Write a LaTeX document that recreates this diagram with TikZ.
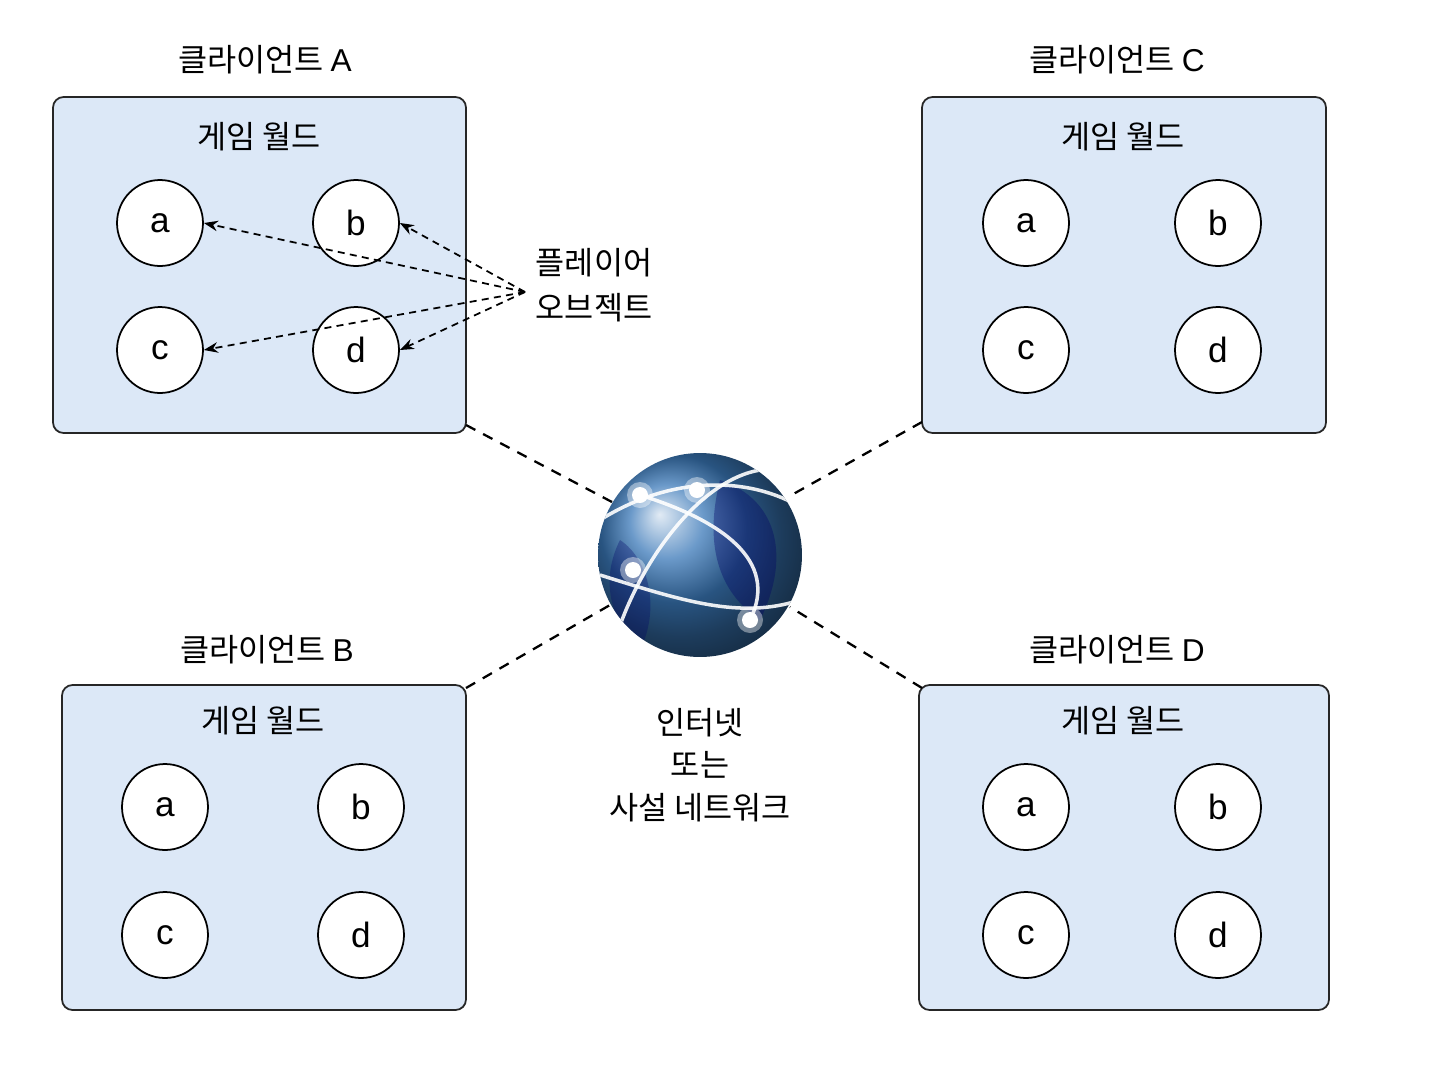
\documentclass[tikz,border=0pt]{standalone}
\usepackage{fontspec}
\setmainfont{Noto Sans CJK KR}
\newfontfamily\lat{Liberation Sans}
\usetikzlibrary{arrows.meta}
\definecolor{boxfill}{HTML}{DCE8F7}
\definecolor{globeb}{HTML}{3A78B8}
\begin{document}
\begin{tikzpicture}[x=0.02cm,y=-0.02cm,
  box/.style={draw=black!85,line width=1pt,fill=boxfill,rounded corners=6pt},
  obj/.style={draw=black,line width=1pt,fill=white,circle,minimum size=1.72cm,inner sep=0pt,font=\lat\fontsize{20}{22}\selectfont},
  lbl/.style={font=\fontsize{18}{26}\selectfont,align=center},
  link/.style={dashed,line width=1.3pt,dash pattern=on 6pt off 5pt},
  ptr/.style={dashed,line width=1pt,-{Stealth[length=8pt]},dash pattern=on 4pt off 3pt}]
\fill[white] (0,0) rectangle (1448,1086);
\useasboundingbox (0,0) rectangle (1448,1086);
\draw[box] (53,97) rectangle (466,433);
\draw[box] (922,97) rectangle (1326,433);
\draw[box] (62,685) rectangle (466,1010);
\draw[box] (919,685) rectangle (1329,1010);
\node[lbl] (tA) at (265,60) {클라이언트 {\lat A}};
\node[lbl] (tC) at (1117,60) {클라이언트 {\lat C}};
\node[lbl] (tB) at (267,650) {클라이언트 {\lat B}};
\node[lbl] (tD) at (1117,650) {클라이언트 {\lat D}};
\node[lbl] (wA) at (259,137) {게임 월드};
\node[lbl] (wC) at (1123,137) {게임 월드};
\node[lbl] (wB) at (263,721) {게임 월드};
\node[lbl] (wD) at (1123,721) {게임 월드};
\node[obj] (Aa) at (160,223) {a}; \node[obj] (Ab) at (356,223) {b};
\node[obj] (Ac) at (160,350) {c}; \node[obj] (Ad) at (356,350) {d};
\node[obj] (Ca) at (1026,223) {a}; \node[obj] (Cb) at (1218,223) {b};
\node[obj] (Cc) at (1026,350) {c}; \node[obj] (Cd) at (1218,350) {d};
\node[obj] (Ba) at (165,807) {a}; \node[obj] (Bb) at (361,807) {b};
\node[obj] (Bc) at (165,935) {c}; \node[obj] (Bd) at (361,935) {d};
\node[obj] (Da) at (1026,807) {a}; \node[obj] (Db) at (1218,807) {b};
\node[obj] (Dc) at (1026,935) {c}; \node[obj] (Dd) at (1218,935) {d};
\node[lbl] (po) at (594,285) {플레이어\\오브젝트};
\coordinate (pp) at (525,292);
\draw[ptr] (pp) -- (Aa.east);
\draw[ptr] (pp) -- (Ab.east);
\draw[ptr] (pp) -- (Ac.east);
\draw[ptr] (pp) -- (Ad.east);
% globe
\node[circle,minimum size=4.08cm,inner sep=0pt,ball color=globeb] (g) at (700,555) {};
\begin{scope}
\clip (700,555) circle (102);
\fill[blue!40!black,opacity=0.35] (720,480) .. controls (780,500) and (790,560) .. (760,620) .. controls (730,600) and (700,560) .. (720,480);
\fill[blue!40!black,opacity=0.3] (620,540) .. controls (650,560) and (660,610) .. (640,650) .. controls (610,620) and (600,580) .. (620,540);
\draw[white,line width=2pt,opacity=0.9] (600,520) .. controls (680,470) and (760,480) .. (805,510);
\draw[white,line width=2pt,opacity=0.9] (615,640) .. controls (640,560) and (700,480) .. (760,470);
\draw[white,line width=2pt,opacity=0.9] (600,575) .. controls (680,600) and (740,620) .. (800,600);
\draw[white,line width=2pt,opacity=0.9] (640,495) .. controls (720,520) and (780,560) .. (750,620);
\end{scope}
\foreach \p in {(640,495),(697,490),(633,570),(750,620)}{
  \fill[white,opacity=0.4] \p circle (13);
  \fill[white] \p circle (8);
}
\coordinate (A1) at (466,425); \coordinate (C1) at (922,422);
\coordinate (B1) at (466,688); \coordinate (D1) at (922,688);
\draw[link] (A1) -- (612,502);
\draw[link] (C1) -- (788,497);
\draw[link] (B1) -- (610,605);
\draw[link] (D1) -- (790,607);
\node[lbl,font=\fontsize{18}{24}\selectfont] (net) at (700,765) {인터넷\\또는\\사설 네트워크};
\end{tikzpicture}
\end{document}
